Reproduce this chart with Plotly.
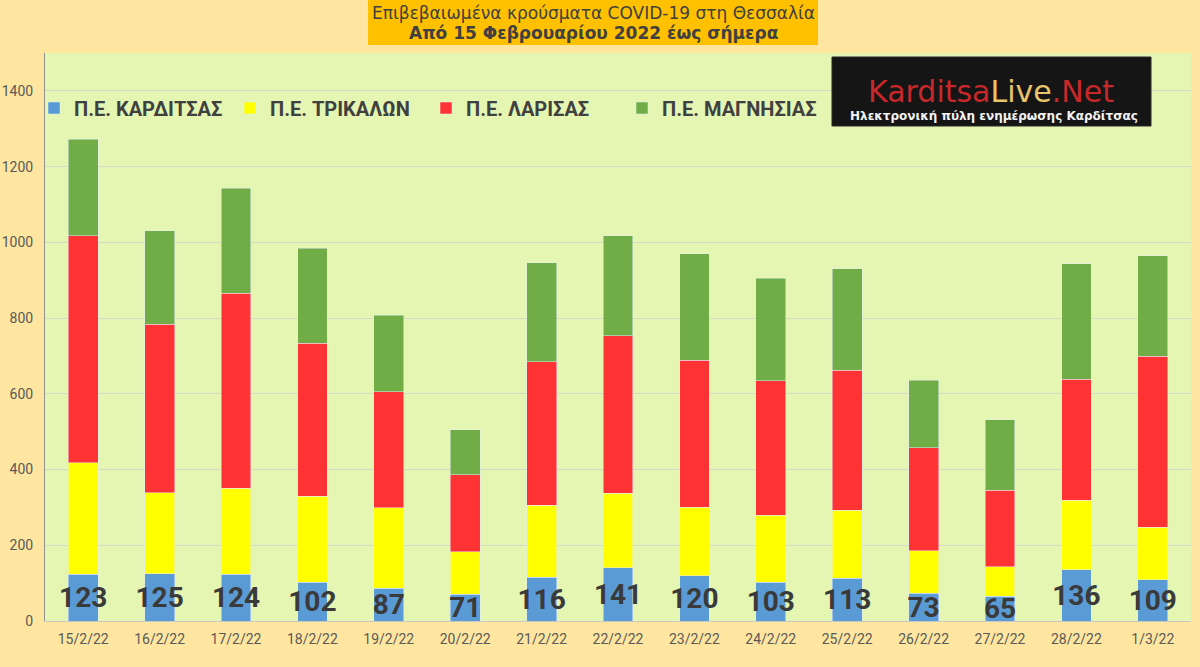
import plotly.graph_objects as go

# 數據
dates = ["15/2/22", "16/2/22", "17/2/22", "18/2/22", "19/2/22", "20/2/22", "21/2/22",
         "22/2/22", "23/2/22", "24/2/22", "25/2/22", "26/2/22", "27/2/22", "28/2/22", "1/3/22"]
karditsa = [123, 125, 124, 102, 87, 71, 116, 141, 120, 103, 113, 73, 65, 136, 109]
trikala = [295, 214, 226, 228, 212, 112, 190, 196, 180, 176, 179, 113, 78, 183, 139]
larisa = [600, 445, 516, 403, 306, 203, 378, 416, 389, 355, 370, 272, 202, 319, 451]
magnesia = [254, 247, 277, 251, 202, 119, 262, 264, 281, 271, 268, 178, 186, 306, 265]

y_ticks = [0, 200, 400, 600, 800, 1000, 1200, 1400]

W, H = 1200, 667
ML, MR, MT, MB = 45, 9, 53, 46
PW, PH = W - ML - MR, H - MT - MB


def px(x):
    return (x - ML) / PW


def py(y):
    return (H - MB - y) / PH


fig = go.Figure()

fig.add_trace(go.Bar(
    x=dates, y=karditsa, name="Π.Ε. ΚΑΡΔΙΤΣΑΣ", marker_color="#5B9BD5",
    text=karditsa, textposition="inside", insidetextanchor="middle",
    constraintext="none", textangle=0,
    textfont=dict(family="Roboto", size=28, color="#3A3A3A", weight="bold"),
    hoverinfo="x+y+name",
))
fig.add_trace(go.Bar(x=dates, y=trikala, name="Π.Ε. ΤΡΙΚΑΛΩΝ", marker_color="#FFFF00"))
fig.add_trace(go.Bar(x=dates, y=larisa, name="Π.Ε. ΛΑΡΙΣΑΣ", marker_color="#FF3333"))
fig.add_trace(go.Bar(x=dates, y=magnesia, name="Π.Ε. ΜΑΓΝΗΣΙΑΣ", marker_color="#70AD47"))

shapes = [
    # πλαίσιο τίτλου
    dict(type="rect", xref="paper", yref="paper", x0=px(368), x1=px(818), y0=py(45), y1=py(0),
         fillcolor="#FFC000", line_width=0, layer="above"),
    # λογότυπο
    dict(type="rect", xref="paper", yref="paper", x0=px(832), x1=px(1151), y0=py(126), y1=py(57),
         fillcolor="#151515", line=dict(color="#2a2a2a", width=1), layer="above"),
]

annotations = [
    dict(text="Επιβεβαιωμένα κρούσματα COVID-19 στη Θεσσαλία", xref="paper", yref="paper",
         x=px(593), y=py(13), xanchor="center", yanchor="middle", showarrow=False,
         font=dict(family="DejaVu Sans", size=17, color="#404040")),
    dict(text="<b>Από 15 Φεβρουαρίου 2022 έως σήμερα</b>", xref="paper", yref="paper",
         x=px(593), y=py(33), xanchor="center", yanchor="middle", showarrow=False,
         font=dict(family="DejaVu Sans", size=17, color="#404040")),
    dict(text="<span style='color:#C8282A'>Karditsa</span><span style='color:#E9C46A'>Live</span>"
              "<span style='color:#C8282A'>.Net</span>",
         xref="paper", yref="paper", x=px(991), y=py(91), xanchor="center", yanchor="middle",
         showarrow=False, font=dict(family="DejaVu Sans", size=30)),
    dict(text="<b>Ηλεκτρονική πύλη ενημέρωσης Καρδίτσας</b>", xref="paper", yref="paper",
         x=px(994), y=py(116), xanchor="center", yanchor="middle", showarrow=False,
         font=dict(family="DejaVu Sans", size=12, color="#F2F2F2")),
]

fig.update_layout(
    width=W, height=H,
    barmode="stack",
    bargap=0.61,
    paper_bgcolor="#FFE6A0",
    plot_bgcolor="#E4F6B2",
    margin=dict(l=ML, r=MR, t=MT, b=MB, autoexpand=False),
    font=dict(family="Roboto", color="#595959"),
    showlegend=True,
    legend=dict(
        orientation="h", x=0, xanchor="left", y=py(108), yanchor="middle",
        bgcolor="rgba(0,0,0,0)",
        font=dict(family="Roboto", size=20, color="#404040", weight="bold"),
        traceorder="normal", indentation=-11,
        entrywidth=162, entrywidthmode="pixels",
    ),
    xaxis=dict(
        tickfont=dict(size=14, color="#595959"),
        showline=True, linecolor="#C8C8C8",
        showgrid=False, automargin=False,
        ticklabelstandoff=5,
    ),
    yaxis=dict(
        range=[0, 1500],
        tickvals=y_ticks,
        tickfont=dict(size=14, color="#595959"),
        showgrid=True, gridcolor="#D4D8C4", gridwidth=1,
        showline=True, linecolor="#909090",
        zeroline=False, automargin=False,
        ticklabelstandoff=8,
    ),
    shapes=shapes,
    annotations=annotations,
)

fig.write_html("out.html", config={"displayModeBar": False},
               post_script="document.body.style.margin='0';")
